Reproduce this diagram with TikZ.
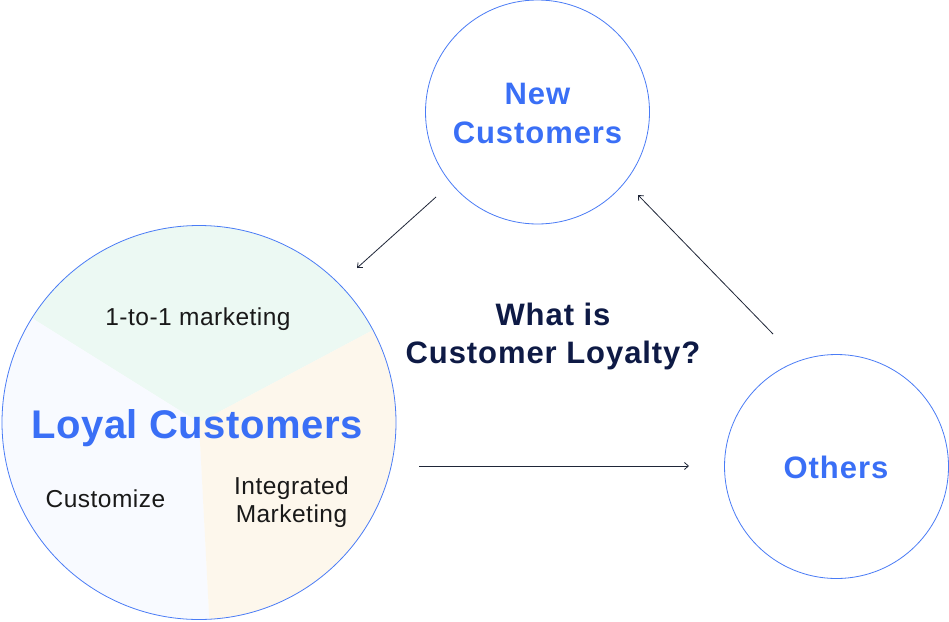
\documentclass[tikz,border=0pt]{standalone}
\usepackage{fontspec}
\setmainfont{Liberation Sans}
\newfontfamily\titlefont[LetterSpace=3.0]{Liberation Sans}
\newfontfamily\loyalfont[LetterSpace=1.2]{Liberation Sans}
\newfontfamily\segfont[LetterSpace=2.0]{Liberation Sans}
\usetikzlibrary{arrows.meta}
\definecolor{brandblue}{HTML}{3A6FF6}
\definecolor{ringblue}{HTML}{4A7CF6}
\definecolor{navy}{HTML}{0E1A45}
\definecolor{arrowc}{HTML}{1F2638}
\definecolor{segGreen}{HTML}{ECF9F3}
\definecolor{segOrange}{HTML}{FDF7EC}
\definecolor{segBlue}{HTML}{F8FAFF}
\begin{document}
\begin{tikzpicture}[x=1pt,y=-1pt,
  ring/.style={circle, draw=ringblue, line width=0.8pt, inner sep=0pt},
  bigtitle/.style={text=brandblue, font=\titlefont\bfseries\fontsize{31}{38}\selectfont, align=center, inner sep=0pt},
  loyaltitle/.style={text=brandblue, font=\loyalfont\bfseries\fontsize{40}{48}\selectfont, inner sep=0pt},
  question/.style={text=navy, font=\titlefont\bfseries\fontsize{31}{38}\selectfont, align=center, inner sep=0pt},
  seglabel/.style={text=black!90, font=\segfont\fontsize{24.5}{28.5}\selectfont, align=center, inner sep=0pt},
  arr/.style={draw=arrowc, line width=0.8pt, -{Straight Barb[length=4pt,width=7pt]}}
]
\useasboundingbox (0,0) rectangle (949,621);
\fill[white] (0,0) rectangle (949,621);

% pie sectors of the loyal customers circle
\coordinate (pc) at (199,422.5);
\fill[segGreen] (pc) -- ++(28:197pt) arc[start angle=28, end angle=148, radius=197pt] -- cycle;
\fill[segBlue] (pc) -- ++(148:197pt) arc[start angle=148, end angle=273, radius=197pt] -- cycle;
\fill[segOrange] (pc) -- ++(273:197pt) arc[start angle=273, end angle=388, radius=197pt] -- cycle;

% circles
\node[ring, minimum size=394pt] (loyal) at (199,422.5) {};
\node[ring, minimum size=224pt] (new) at (537.5,112) {};
\node[ring, minimum size=224pt] (others) at (836.5,466.5) {};

% labels
\node[loyaltitle, anchor=base] (loyaltxt) at (197,438) {Loyal Customers};
\node[seglabel, anchor=base] (seg1) at (198,325) {1-to-1 marketing};
\node[seglabel, anchor=base] (seg2) at (105.5,507) {Customize};
\node[seglabel, anchor=base] (seg3a) at (291.5,494) {Integrated};
\node[seglabel, anchor=base] (seg3b) at (291.5,522.5) {Marketing};
\node[bigtitle, anchor=base] (newa) at (537.5,104) {New};
\node[bigtitle, anchor=base] (newb) at (537.5,143) {Customers};
\node[bigtitle, anchor=base] (otherstxt) at (836,478) {Others};
\node[question, anchor=base] (q1) at (553,325) {What is};
\node[question, anchor=base] (q2) at (553,363) {Customer Loyalty?};

% connectors
\coordinate (a1s) at (436,197);
\coordinate (a1e) at (357,268);
\coordinate (a2s) at (773,334);
\coordinate (a2e) at (638,195);
\coordinate (a3s) at (419,466);
\coordinate (a3e) at (689,466);
\draw[arr] (a1s) -- (a1e);
\draw[arr] (a2s) -- (a2e);
\draw[arr] (a3s) -- (a3e);
\end{tikzpicture}
\end{document}
